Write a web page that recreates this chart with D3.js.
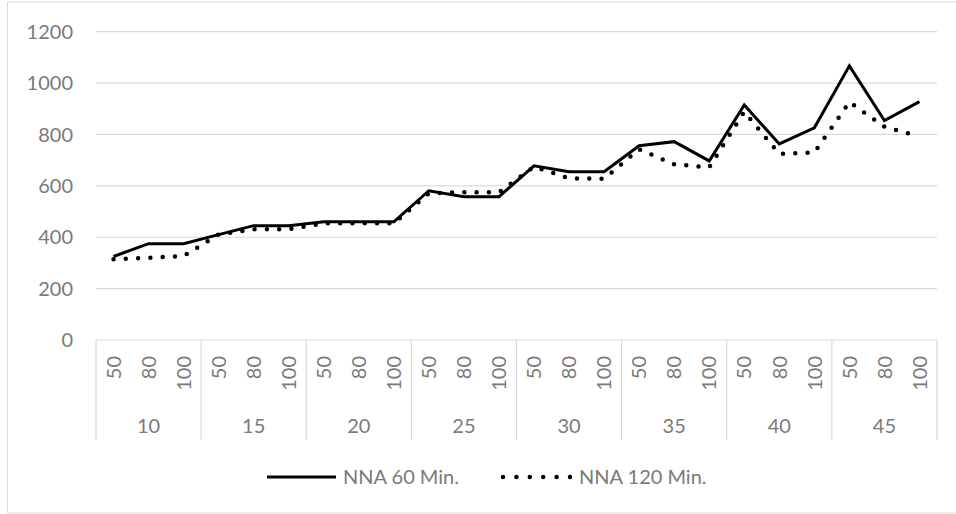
<!DOCTYPE html>
<html><head><meta charset="utf-8">
<script src="https://cdn.jsdelivr.net/npm/d3@7"></script>
<style>
html,body{margin:0;padding:0;background:#fff;}
svg{display:block;}
text{font-family:Lato,"Open Sans",sans-serif;fill:#7a7a7a;}
</style></head>
<body>
<svg id="chart" width="956" height="514"></svg>
<script>
const groups = ["10","15","20","25","30","35","40","45"];
const subs = ["50","80","100"];
const yTicks = [0,200,400,600,800,1000,1200];
const seriesNames = ["NNA 60 Min.","NNA 120 Min."];
const nna60  = [325,375,375,410,445,445,460,460,460,581,558,558,678,655,655,756,772,697,915,763,826,1067,854,928];
const nna120 = [314,320,327,411,431,431,454,454,454,571,575,575,675,629,628,742,684,672,889,724,730,926,830,793];

const svg = d3.select("#chart");
const plot = {left:96, right:937, top:31.7, bottom:340};
const grid = "#d9d9d9";
const fs = 20;

// frame
svg.append("path").attr("d", `M956,2H7.5V513H956`).attr("fill","none").attr("stroke",grid).attr("stroke-width",1);

const cats = [];
groups.forEach(g => subs.forEach(s => cats.push(g+"|"+s)));

const x = d3.scaleBand().domain(cats).range([plot.left, plot.right]);
const xg = d3.scaleBand().domain(groups).range([plot.left, plot.right]);
const y = d3.scaleLinear().domain([0,1200]).range([plot.bottom, plot.top]);

// gridlines
svg.append("g").selectAll("line").data(yTicks.filter(d=>d>0)).join("line")
  .attr("x1", plot.left).attr("x2", plot.right)
  .attr("y1", d=>y(d)).attr("y2", d=>y(d))
  .attr("stroke", grid).attr("stroke-width", 1.2);

// y axis labels
svg.append("g").selectAll("text").data(yTicks).join("text")
  .attr("x", 73).attr("y", d=>y(d)).attr("dy","0.36em")
  .attr("text-anchor","end").attr("font-size",fs).text(d=>d);

// x axis line
svg.append("line").attr("x1",plot.left).attr("x2",plot.right)
  .attr("y1",plot.bottom).attr("y2",plot.bottom).attr("stroke",grid).attr("stroke-width",1.2);

// group separators
const seps = groups.map(g=>xg(g)).concat([plot.right]);
svg.append("g").selectAll("line").data(seps).join("line")
  .attr("x1",d=>d).attr("x2",d=>d).attr("y1",plot.bottom).attr("y2",440)
  .attr("stroke",grid).attr("stroke-width",1.2);

// sub labels (rotated)
svg.append("g").selectAll("text").data(cats).join("text")
  .attr("transform", d=>`translate(${x(d)+x.bandwidth()/2},356) rotate(-90)`)
  .attr("dy","0.36em").attr("text-anchor","end").attr("font-size",fs)
  .text(d=>d.split("|")[1]);

// group labels
svg.append("g").selectAll("text").data(groups).join("text")
  .attr("x", d=>xg(d)+xg.bandwidth()/2).attr("y", 432.5)
  .attr("text-anchor","middle").attr("font-size",fs).text(d=>d);

const line = d3.line().x((d,i)=>x(cats[i])+x.bandwidth()/2).y(d=>y(d));

svg.append("path").datum(nna120).attr("d", line).attr("fill","none")
  .attr("stroke","#000").attr("stroke-width",4.5).attr("stroke-linecap","round")
  .attr("stroke-dasharray","0 12.3");
svg.append("path").datum(nna60).attr("d", line).attr("fill","none")
  .attr("stroke","#000").attr("stroke-width",3).attr("stroke-linejoin","miter");

// legend
const lg = svg.append("g");
lg.append("line").attr("x1",267).attr("x2",336).attr("y1",477).attr("y2",477)
  .attr("stroke","#000").attr("stroke-width",3);
lg.append("text").attr("x",343).attr("y",484).attr("font-size",fs).text(seriesNames[0]);
lg.append("line").attr("x1",503).attr("x2",570.5).attr("y1",477).attr("y2",477)
  .attr("stroke","#000").attr("stroke-width",4.5).attr("stroke-linecap","round")
  .attr("stroke-dasharray","0 13.4");
lg.append("text").attr("x",579).attr("y",484).attr("font-size",fs).text(seriesNames[1]);
</script>
</body></html>
